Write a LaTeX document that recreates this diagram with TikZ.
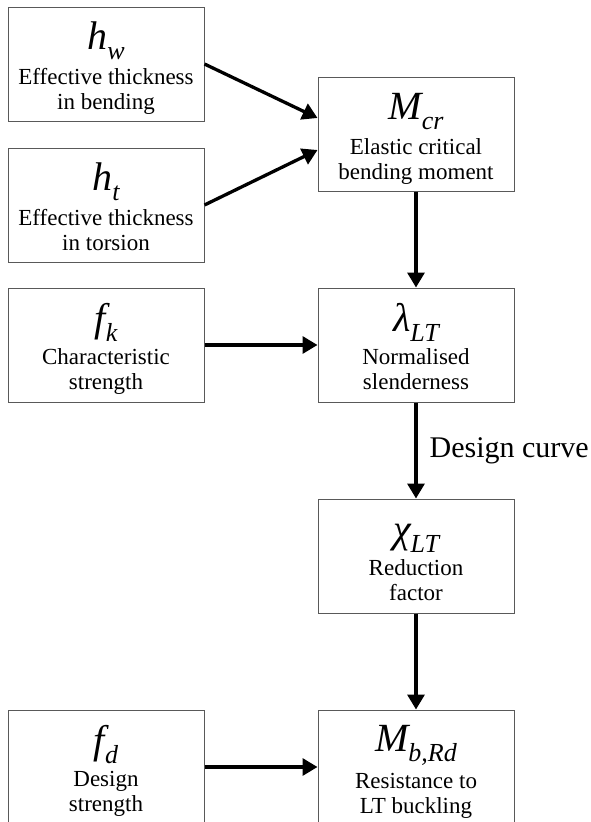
\documentclass[tikz,border=0pt]{standalone}
\usepackage{fontspec}
\setmainfont{Liberation Serif}
\usetikzlibrary{positioning, arrows.meta}

\newcommand{\symb}[2]{\rule{0pt}{37pt}{\fontsize{40}{40}\selectfont\itshape #1}\raisebox{-10pt}{\fontsize{26}{26}\selectfont\itshape #2}}
\newcommand{\lastline}{\rule[-6pt]{0pt}{6pt}}

\begin{document}
\begin{tikzpicture}[x=1pt, y=-1pt, >={Triangle[length=15pt, width=17pt]},
    blk/.style={draw=black!65, line width=1pt, minimum width=196pt, minimum height=114pt, inner sep=0pt, align=center, font=\fontsize{23}{25}\selectfont},
    flow/.style={->, line width=3.3pt}]
    \clip (0,0) rectangle (591,822);
    % left column
    \node[blk] (hw) at (106,64) {\symb{h}{w}\\[7pt] Effective thickness\\ in bending\lastline};
    \node[blk, below=26pt of hw] (ht) {\symb{h}{t}\\[7pt] Effective thickness\\ in torsion\lastline};
    \node[blk, below=25pt of ht] (fk) {\symb{f}{k}\\[7pt] Characteristic\\ strength\lastline};
    % right column
    \node[blk, right=113pt of fk] (lam) {\symb{λ}{LT}\\[7pt] Normalised\\ slenderness\lastline};
    \node[blk, above=96pt of lam] (mcr) {\symb{M}{cr}\\[7pt] Elastic critical\\ bending moment\lastline};
    \node[blk, below=96pt of lam] (chi) {\symb{χ}{LT}\\[7pt] Reduction\\ factor\lastline};
    \node[blk, below=96pt of chi] (mb) {\symb{M}{b,Rd}\\[7pt] Resistance to\\ LT buckling\lastline};
    % bottom left
    \node[blk, left=113pt of mb] (fd) {\symb{f}{d}\\[7pt] Design\\ strength\lastline};
    % links
    \draw[flow] (hw.east) -- ([yshift=16pt]mcr.west);
    \draw[flow] (ht.east) -- ([yshift=-16pt]mcr.west);
    \draw[flow] (mcr) -- (lam);
    \draw[flow] (fk) -- (lam);
    \draw[flow] (lam) -- (chi) node[midway, right=12pt, inner sep=0pt, font=\fontsize{30}{30}\selectfont] (dc) {Design curve};
    \draw[flow] (chi) -- (mb);
    \draw[flow] (fd) -- (mb);
\end{tikzpicture}
\end{document}
